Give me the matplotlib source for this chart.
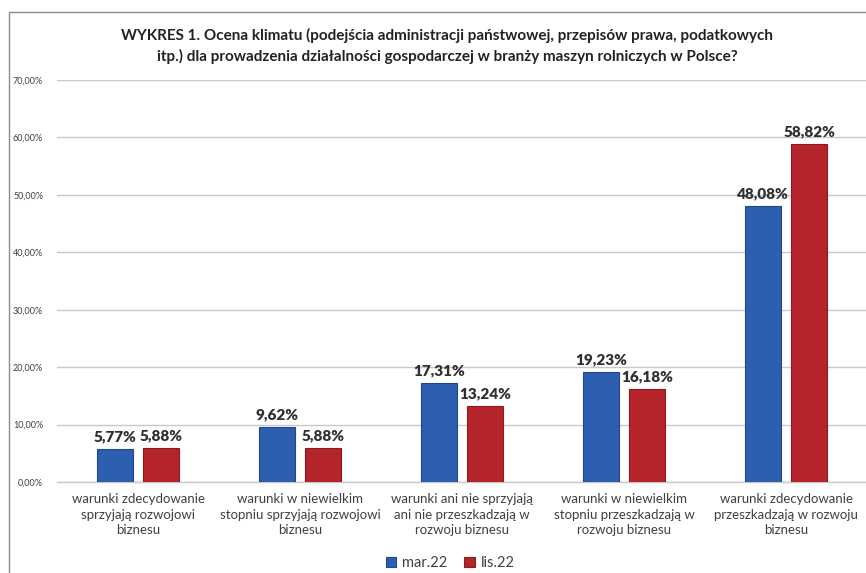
import matplotlib.pyplot as plt
from matplotlib.patches import Rectangle
import numpy as np

# dane z wykresu
kategorie = ["warunki zdecydowanie\nsprzyjają rozwojowi\nbiznesu",
             "warunki w niewielkim\nstopniu sprzyjają rozwojowi\nbiznesu",
             "warunki ani nie sprzyjają\nani nie przeszkadzają w\nrozwoju biznesu",
             "warunki w niewielkim\nstopniu przeszkadzają w\nrozwoju biznesu",
             "warunki zdecydowanie\nprzeszkadzają w rozwoju\nbiznesu"]
mar22 = [5.77, 9.62, 17.31, 19.23, 48.08]
lis22 = [5.88, 5.88, 13.24, 16.18, 58.82]
serie = ["mar.22", "lis.22"]
yticks = [0, 10, 20, 30, 40, 50, 60, 70]

tytul = ("WYKRES 1. Ocena klimatu (podejścia administracji państwowej, przepisów prawa, podatkowych\n"
         "itp.) dla prowadzenia działalności gospodarczej w branży maszyn rolniczych w Polsce?")

plt.rcParams['font.family'] = ['Lato', 'DejaVu Sans']

niebieski = '#2C5FAF'
czerwony = '#B4242A'

fig = plt.figure(figsize=(8.66, 5.73), dpi=100)
fig.patch.set_facecolor('white')

# ramka wokol wykresu
fig.patches.append(Rectangle((9/866, -0.01), 1.2, (573-12)/573 + 0.01, transform=fig.transFigure,
                             fill=False, edgecolor='#8c8c8c', linewidth=1.0))

ax = fig.add_axes([57/866, (573-482)/573, 810/866, (482-80)/573])

x = np.arange(len(kategorie))
szer = 0.222
b1 = ax.bar(x - 0.142, mar22, szer, color=niebieski, edgecolor='#21478a', linewidth=0.8,
            label=serie[0], zorder=3)
b2 = ax.bar(x + 0.142, lis22, szer, color=czerwony, edgecolor='#8c1a1f', linewidth=0.8,
            label=serie[1], zorder=3)

for bars, vals in [(b1, mar22), (b2, lis22)]:
    for b, v in zip(bars, vals):
        ax.annotate(("%.2f%%" % v).replace('.', ','), (b.get_x() + b.get_width()/2, v),
                    xytext=(0, 4), textcoords='offset points', ha='center', va='bottom',
                    fontsize=11, fontweight='heavy', color='#303030', zorder=4)

ax.set_xlim(-0.5, len(kategorie) - 0.5)
ax.set_ylim(0, 70)
ax.set_yticks(yticks)
ax.set_yticklabels([("%.2f%%" % t).replace('.', ',') for t in yticks], fontsize=6.5, color='#404040')
ax.yaxis.grid(True, color='#c8c8c8', linewidth=1.0, zorder=0)
ax.tick_params(axis='y', length=0, pad=10)
ax.set_xticks(x)
ax.set_xticklabels(kategorie, fontsize=9.5, color='#404040', linespacing=1.35)
ax.tick_params(axis='x', length=0, pad=8)
for s in ['top', 'right', 'left']:
    ax.spines[s].set_visible(False)
ax.spines['bottom'].set_color('#c8c8c8')
ax.spines['bottom'].set_linewidth(1.0)

fig.text(447/866, 1 - 46/573, tytul, ha='center', va='center', fontsize=11, fontweight='bold',
         color='#222222', linespacing=1.45)

fig.legend(handles=[b1, b2], labels=serie, loc='center', bbox_to_anchor=(450/866, 1 - 563/573),
           ncol=2, frameon=False, fontsize=10.5, handlelength=0.7, handleheight=0.7,
           handletextpad=0.4, columnspacing=1.2, labelcolor='#404040')

fig.savefig('out.png', dpi=100)
